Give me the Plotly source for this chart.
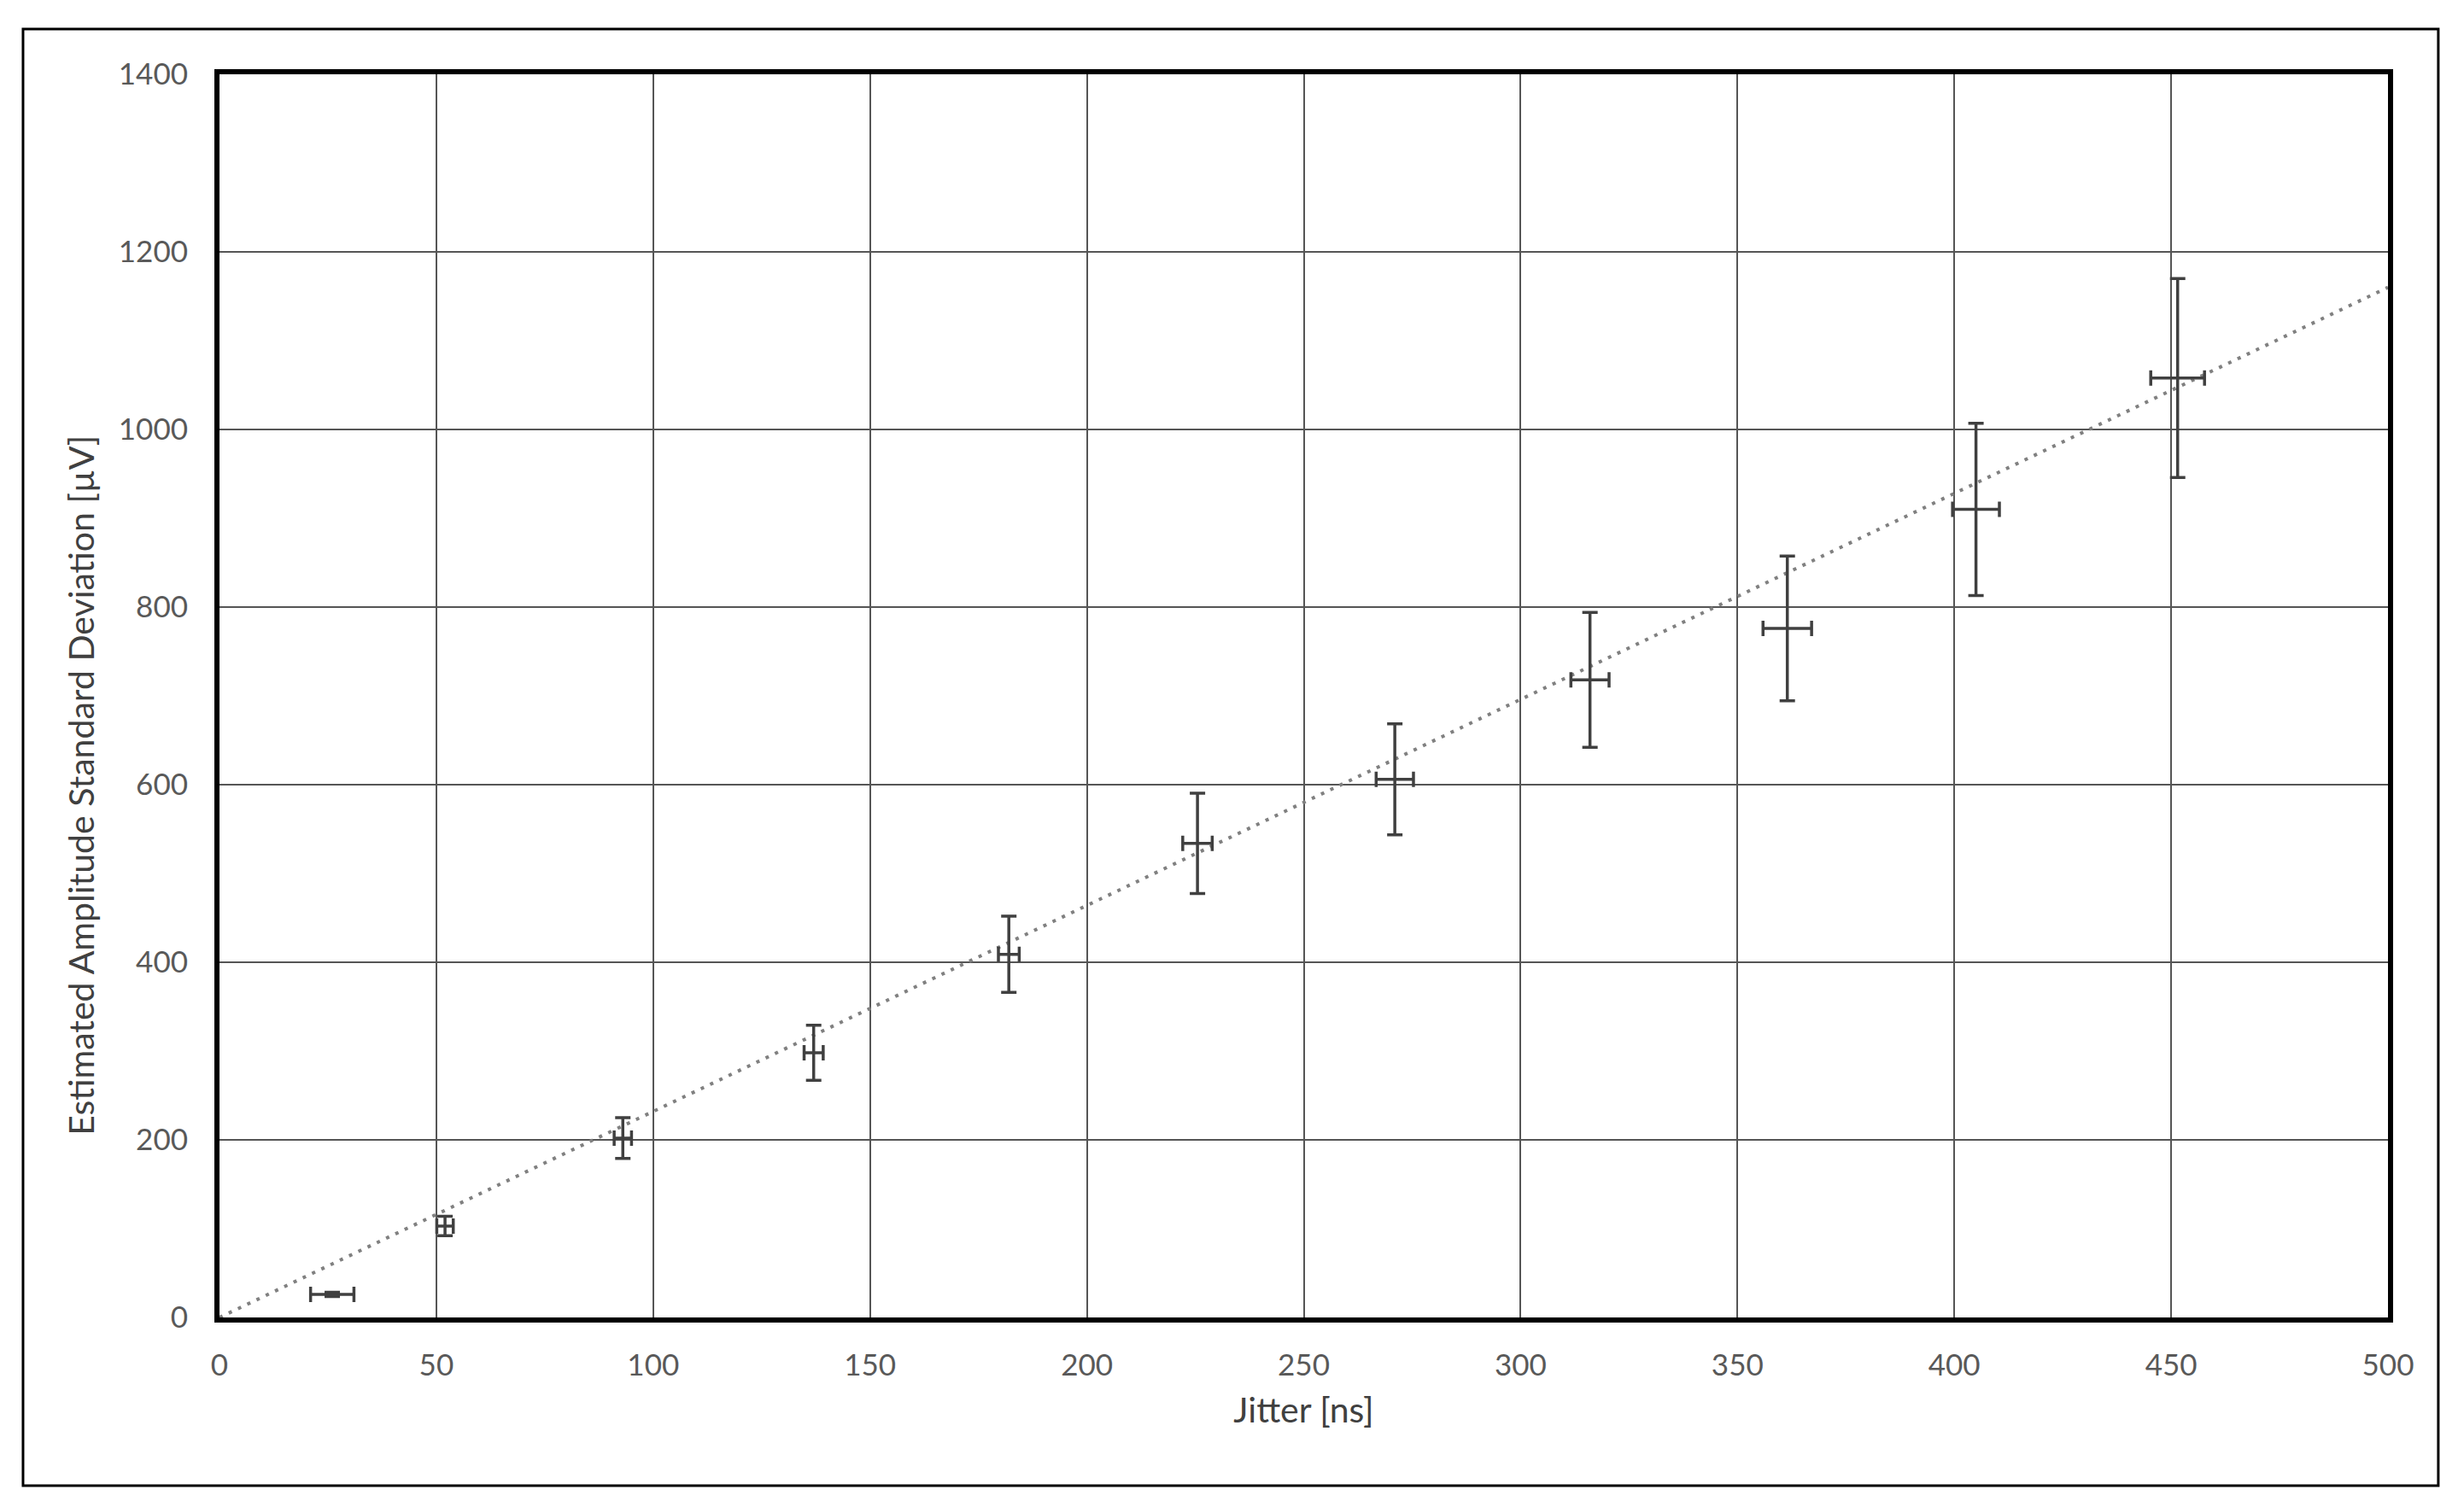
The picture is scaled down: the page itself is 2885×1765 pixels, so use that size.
import plotly.graph_objects as go

# measured points
jitter_ns = [26, 52, 93, 137, 182, 225.5, 271, 316, 361.5, 405, 451.5]
jitter_err = [5, 1.9, 2, 2.2, 2.4, 3.4, 4.3, 4.4, 5.6, 5.4, 6.2]
amp_std_uv = [26, 103, 202, 298, 409, 534, 606, 718, 776, 910, 1058]
amp_err = [2.4, 11, 23, 31, 43, 56.5, 62.5, 76, 81.5, 97, 112]

# linear trendline through origin
trend_x = [0, 500]
trend_y = [0, 1160]

x_ticks = [0, 50, 100, 150, 200, 250, 300, 350, 400, 450, 500]
y_ticks = [0, 200, 400, 600, 800, 1000, 1200, 1400]

font_family = "Lato, Open Sans, sans-serif"
err_color = "#404040"
title_font = dict(family=font_family, size=41, color="#404040")

fig = go.Figure()

fig.add_trace(go.Scatter(
    x=trend_x, y=trend_y,
    mode="lines",
    line=dict(color="#808080", width=4, dash="4px,8px"),
    hoverinfo="skip",
    showlegend=False
))

fig.add_trace(go.Scatter(
    x=jitter_ns, y=amp_std_uv,
    mode="markers",
    marker=dict(size=2, color=err_color),
    error_x=dict(type="data", array=jitter_err, color=err_color, thickness=3.5, width=9),
    error_y=dict(type="data", array=amp_err, color=err_color, thickness=3.5, width=9),
    showlegend=False
))

axis_common = dict(
    showgrid=True,
    gridcolor="#555555",
    gridwidth=2,
    showline=True,
    linecolor="black",
    linewidth=6,
    mirror=True,
    zeroline=False,
    ticks="",
    tickfont=dict(family=font_family, size=35, color="#595959"),
)

fig.update_xaxes(
    range=[0, 500], tickvals=x_ticks, ticklabelstandoff=20,
    title=dict(text="Jitter [ns]", font=title_font, standoff=22),
    **axis_common
)
fig.update_yaxes(
    range=[0, 1400], tickvals=y_ticks, ticklabelstandoff=24,
    **axis_common
)

# y title sits a bit below the middle of the axis in the original
fig.add_annotation(
    text="Estimated Amplitude Standard Deviation [µV]",
    xref="paper", yref="paper", x=-0.0638, y=0.428,
    xanchor="center", yanchor="middle", textangle=-90,
    showarrow=False, font=title_font
)

# outer chart-area border
fig.add_shape(type="rect", xref="paper", yref="paper",
              x0=-0.0906, x1=1.0232, y0=-0.1353, y1=1.0364,
              line=dict(color="black", width=3), layer="below")

fig.update_layout(
    width=2885, height=1765,
    margin=dict(l=249, r=97, t=79, b=230),
    plot_bgcolor="white",
    paper_bgcolor="white",
    font=dict(family=font_family)
)

fig.write_html("out.html")
